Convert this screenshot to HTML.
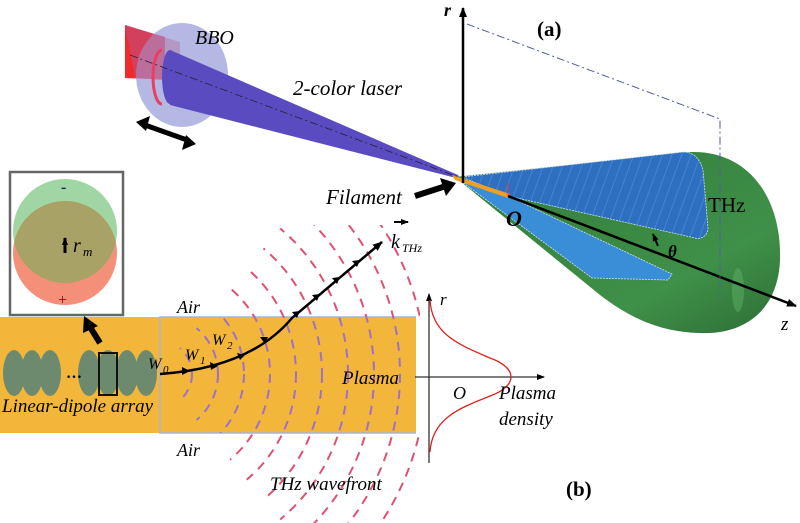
<!DOCTYPE html>
<html><head><meta charset="utf-8"><style>
html,body{margin:0;padding:0;background:#fff;overflow:hidden;width:800px;height:523px}
svg{display:block}
text{font-family:"Liberation Serif",serif;font-style:italic}
text.n{font-style:normal}
</style></head><body>
<svg width="800" height="523" viewBox="0 0 800 523" xmlns="http://www.w3.org/2000/svg">
<defs>
<linearGradient id="gr" x1="0" y1="0" x2="1" y2="1">
<stop offset="0" stop-color="#2f7a3a"/><stop offset="0.7" stop-color="#3f9048"/><stop offset="1" stop-color="#2c6e35"/>
</linearGradient>
<pattern id="hatch" width="9" height="9" patternUnits="userSpaceOnUse" patternTransform="rotate(20)">
<rect width="9" height="9" fill="#2f6fc0"/><line x1="0" y1="0" x2="0" y2="9" stroke="#4a8ad8" stroke-width="1.5"/>
</pattern>
<clipPath id="wedge"><polygon points="158,374 415,68 800,68 800,680 415,680"/></clipPath>
<clipPath id="inP"><rect x="160" y="317" width="256" height="116"/></clipPath>
<clipPath id="outP"><path d="M160,225 H420 V317 H160 Z M160,433 H420 V523 H160 Z"/></clipPath>
<clipPath id="gc"><circle cx="65" cy="231" r="52"/></clipPath>
<marker id="ah" markerWidth="10" markerHeight="8" refX="9" refY="4" orient="auto" markerUnits="userSpaceOnUse"><path d="M0,0 L10,4 L0,8 Z" fill="#000"/></marker>
<marker id="ahs" markerWidth="8" markerHeight="6" refX="7" refY="3" orient="auto" markerUnits="userSpaceOnUse"><path d="M0,0 L8,3 L0,6 Z" fill="#000"/></marker>
</defs>

<path d="M125,25 L180,42 L180,80 L125,78 Z" fill="#f02a2a"/>
<ellipse cx="182" cy="75" rx="46" ry="52" fill="#a8acde" opacity="0.85"/>
<path d="M125,25 L165,37 L165,80 L135,78 Z" fill="#c05080" opacity="0.6"/>
<path d="M170,50 L458,175 L460,179 L170,105 Z" fill="#5a4cc0"/>
<ellipse cx="170" cy="77" rx="8" ry="27" fill="#5a4cc0"/>
<path d="M162,50 A9,27 0 0 0 162,104" fill="none" stroke="#e84060" stroke-width="3"/>
<line x1="130" y1="55" x2="458" y2="177" stroke="#223" stroke-width="0.8" stroke-dasharray="8,3,2,3"/>
<line x1="145" y1="125" x2="187" y2="140" stroke="#000" stroke-width="5"/>
<path d="M136,122 L150,116 L146,131 Z" fill="#000"/>
<path d="M196,144 L182,150 L186,135 Z" fill="#000"/>

<path d="M455,177 L690,152 C750,150 782,200 780,260 C778,310 745,335 700,333 C660,332 630,318 600,295 Z" fill="url(#gr)"/>
<ellipse cx="738" cy="290" rx="6" ry="22" fill="#6fbf78" opacity="0.35"/>
<path d="M462,177 L683,152 C695,152 700,160 703,170 L708,228 C708,236 700,240 695,238 L508,196 Z" fill="url(#hatch)" stroke="#cfe0f5" stroke-width="0.8" stroke-dasharray="2,1"/>
<path d="M462,182 L508,196 L672,274 L668,280 L592,278 Z" fill="#3a8ed8" stroke="#cfe0f5" stroke-width="0.8" stroke-dasharray="2,1"/>
<path d="M452,175 L510,194 L508,198 L455,180 Z" fill="#f0a020"/>
<line x1="463" y1="183" x2="463" y2="8" stroke="#000" stroke-width="2.5" marker-end="url(#ah)"/>
<line x1="508" y1="196" x2="796" y2="306" stroke="#000" stroke-width="2.5" marker-end="url(#ah)"/>
<path d="M467,24 L720,119 L720,300" fill="none" stroke="#5060a0" stroke-width="1" stroke-dasharray="8,3,2,3"/>
<path d="M658,246 L653,234" stroke="#000" stroke-width="2" marker-end="url(#ahs)"/>
<line x1="508" y1="196" x2="508" y2="183" stroke="#e03060" stroke-width="1"/>
<line x1="415" y1="196" x2="446" y2="186" stroke="#000" stroke-width="6"/>
<path d="M456,183 L440,178 L446,196 Z" fill="#000"/>

<text x="195" y="44" font-size="20">BBO</text>
<text x="293" y="95" font-size="21">2-color laser</text>
<text x="326" y="204" font-size="21">Filament</text>
<text class="n" x="537" y="36" font-size="21" font-weight="bold">(a)</text>
<text x="444" y="16" font-size="18" font-weight="bold">r</text>
<text x="506" y="226" font-size="22" font-weight="bold">O</text>
<text class="n" x="708" y="212" font-size="21">THz</text>
<text x="668" y="257" font-size="17" font-weight="bold">θ</text>
<text x="781" y="330" font-size="19">z</text>

<rect x="0" y="317" width="416" height="116" fill="#f2b63a"/>
<path d="M416,317 H160 V433 H416" fill="none" stroke="#a8b4d8" stroke-width="1.5"/>
<g fill="#6e8a6e">
<ellipse cx="14" cy="373" rx="11" ry="23"/><ellipse cx="32" cy="373" rx="11" ry="23"/><ellipse cx="50" cy="373" rx="11" ry="23"/>
<ellipse cx="89" cy="373" rx="11" ry="23"/><ellipse cx="108" cy="373" rx="11" ry="23"/><ellipse cx="127" cy="373" rx="11" ry="23"/><ellipse cx="146" cy="373" rx="11" ry="23"/>
</g>
<text class="n" x="66" y="378" font-size="16" font-weight="bold">…</text>
<rect x="99" y="353" width="18" height="42" fill="none" stroke="#111" stroke-width="2"/>
<line x1="100" y1="343" x2="90" y2="327" stroke="#000" stroke-width="6"/>
<path d="M84,316 L98,326 L83,333 Z" fill="#000"/>
<rect x="10" y="172" width="113" height="143" fill="#fff" stroke="#666" stroke-width="2.5"/>
<circle cx="65" cy="231" r="52" fill="#9fd6a4"/>
<circle cx="65" cy="253" r="52" fill="#f4907a"/>
<circle cx="65" cy="253" r="52" fill="#a9a266" clip-path="url(#gc)"/>
<text class="n" x="61" y="192" font-size="16" font-weight="bold" fill="#224">-</text>
<text class="n" x="58" y="305" font-size="16" fill="#800">+</text>
<line x1="65" y1="253" x2="65" y2="238" stroke="#000" stroke-width="3" marker-end="url(#ahs)"/>
<text x="73" y="252" font-size="20">r</text><text x="83" y="256" font-size="13">m</text>

<g clip-path="url(#wedge)">
<g fill="none" stroke-width="2" stroke-dasharray="9,7">
<g clip-path="url(#inP)" stroke="#a070c8">
<circle cx="158" cy="374" r="34"/><circle cx="158" cy="374" r="60"/><circle cx="158" cy="374" r="86"/><circle cx="158" cy="374" r="112"/><circle cx="158" cy="374" r="138"/><circle cx="158" cy="374" r="164"/><circle cx="158" cy="374" r="190"/><circle cx="158" cy="374" r="216"/><circle cx="158" cy="374" r="242"/>
</g>
<g clip-path="url(#outP)" stroke="#e05070">
<circle cx="158" cy="374" r="112"/><circle cx="158" cy="374" r="138"/><circle cx="158" cy="374" r="164"/><circle cx="158" cy="374" r="190"/><circle cx="158" cy="374" r="216"/><circle cx="158" cy="374" r="242"/><circle cx="158" cy="374" r="268"/>
</g>
</g>
</g>
<path d="M160,374 Q250,368 292,318 L382,242" fill="none" stroke="#000" stroke-width="2.5" marker-end="url(#ah)"/>
<path d="M190,371 l-8,-4 l0,8 Z M218,366 l-8,-4 l1,8Z M245,355 l-8,-2 l3,7Z M268,337 l-8,0 l5,7Z M300,311 l-8,1 l5,6Z M320,294 l-8,1 l5,6Z M340,277 l-8,1 l5,6Z M360,260 l-8,1 l5,6Z" fill="#000"/>
<line x1="394" y1="222" x2="408" y2="222" stroke="#000" stroke-width="2" marker-end="url(#ahs)"/>
<text x="391" y="248" font-size="20">k</text><text x="402" y="252" font-size="12">THz</text>

<text x="177" y="313" font-size="18">Air</text>
<text x="177" y="456" font-size="18">Air</text>
<text x="148" y="369" font-size="16">W</text><text x="163" y="373" font-size="11">0</text>
<text x="185" y="360" font-size="16">W</text><text x="200" y="364" font-size="11">1</text>
<text x="212" y="345" font-size="16">W</text><text x="227" y="349" font-size="11">2</text>
<text x="2" y="412" font-size="19">Linear-dipole array</text>
<text x="342" y="384" font-size="19">Plasma</text>
<text x="270" y="490" font-size="19">THz wavefront</text>

<line x1="429" y1="463" x2="429" y2="294" stroke="#333" stroke-width="1.3" marker-end="url(#ahs)"/>
<line x1="415" y1="377" x2="544" y2="377" stroke="#333" stroke-width="1.3" marker-end="url(#ahs)"/>
<path d="M430,300 C432,335 460,345 490,358 C518,368 518,386 490,396 C460,408 432,418 430,452" fill="none" stroke="#e02020" stroke-width="1.3"/>
<text x="440" y="305" font-size="17">r</text>
<text x="453" y="399" font-size="18">O</text>
<text x="499" y="399" font-size="19">Plasma</text>
<text x="499" y="425" font-size="19">density</text>
<text class="n" x="566" y="496" font-size="21" font-weight="bold">(b)</text>
</svg>
</body></html>
